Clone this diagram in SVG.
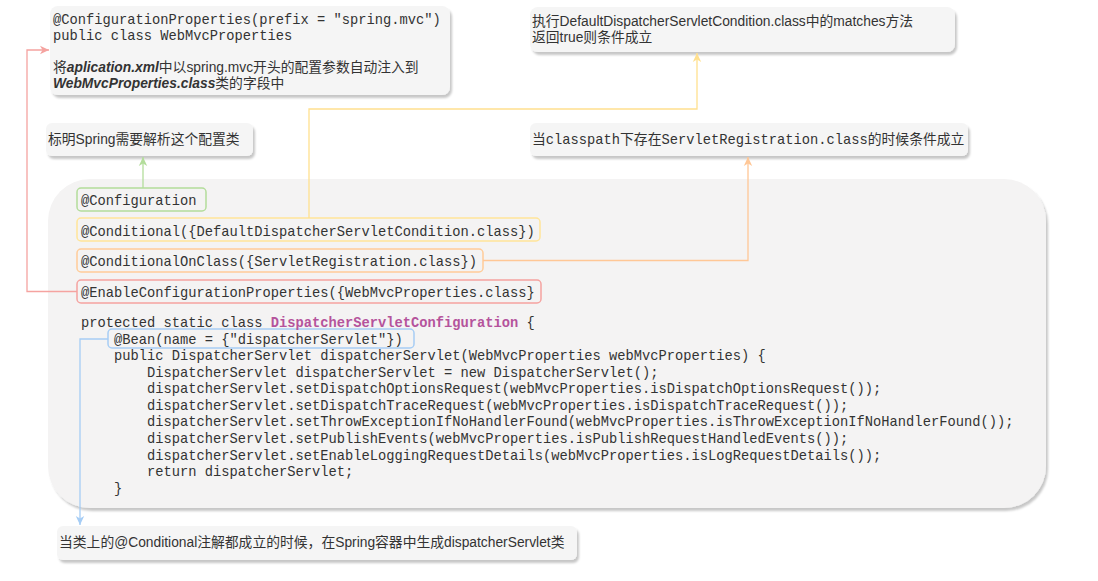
<svg xmlns="http://www.w3.org/2000/svg" width="1098" height="581" viewBox="0 0 1098 581">
<style>
.box{fill:#f5f5f5;stroke:none;filter:url(#sh)}
.big{fill:#f4f3f3;stroke:none;filter:url(#sh)}
.ann{fill:none;stroke-width:1.5}
.mono{font-family:"Liberation Mono","Noto Sans CJK SC",monospace;fill:#333}
.code{font-family:"Liberation Mono",monospace;font-size:13.75px;fill:#333}
.sans{font-family:"Liberation Sans","Noto Sans CJK SC",sans-serif;font-size:13.8px;fill:#333}
.bi{font-weight:bold;font-style:italic}
.kw{fill:#b5539c;font-weight:bold}
.conn{fill:none;stroke-width:1.3}
</style>
<defs>
<filter id="sh" x="-5%" y="-10%" width="110%" height="130%">
<feDropShadow dx="2" dy="3" stdDeviation="1" flood-color="#000" flood-opacity="0.22"/>
</filter>
<marker id="aR" markerUnits="userSpaceOnUse" markerWidth="10" markerHeight="10" refX="9" refY="5" orient="auto"><path d="M0,0.8 L9,5 L0,9.2 L2.5,5 Z" fill="#f5a3a0"/></marker>
<marker id="aG" markerUnits="userSpaceOnUse" markerWidth="10" markerHeight="10" refX="9" refY="5" orient="auto"><path d="M0,0.8 L9,5 L0,9.2 L2.5,5 Z" fill="#b3dd9b"/></marker>
<marker id="aY" markerUnits="userSpaceOnUse" markerWidth="10" markerHeight="10" refX="9" refY="5" orient="auto"><path d="M0,0.8 L9,5 L0,9.2 L2.5,5 Z" fill="#ffe08f"/></marker>
<marker id="aO" markerUnits="userSpaceOnUse" markerWidth="10" markerHeight="10" refX="9" refY="5" orient="auto"><path d="M0,0.8 L9,5 L0,9.2 L2.5,5 Z" fill="#ffc796"/></marker>
<marker id="aB" markerUnits="userSpaceOnUse" markerWidth="10" markerHeight="10" refX="9" refY="5" orient="auto"><path d="M0,0.8 L9,5 L0,9.2 L2.5,5 Z" fill="#a6cdf5"/></marker>
</defs>
<rect width="1098" height="581" fill="#ffffff"/>

<g id="node-webmvcproperties">
<rect class="box" x="50" y="6" width="400" height="89" rx="8"/>
<text class="mono" x="53" y="24" font-size="13.75">@ConfigurationProperties(prefix = "spring.mvc")</text>
<text class="mono" x="53" y="40" font-size="13.75">public class WebMvcProperties</text>
<text class="sans" x="53" y="71.5">将<tspan class="bi">aplication.xml</tspan>中以spring.mvc开头的配置参数自动注入到</text>
<text class="sans" x="53" y="88"><tspan class="bi">WebMvcProperties.class</tspan>类的字段中</text>
</g>

<g id="node-matches">
<rect class="box" x="530" y="7" width="425" height="45" rx="8"/>
<text class="sans" x="532" y="25.5">执行DefaultDispatcherServletCondition.class中的matches方法</text>
<text class="sans" x="532" y="41.5">返回true则条件成立</text>
</g>

<g id="node-spring-parse">
<rect class="box" x="46" y="123" width="207" height="33" rx="6"/>
<text class="sans" x="48" y="143.5">标明Spring需要解析这个配置类</text>
</g>

<g id="node-classpath">
<rect class="box" x="530" y="123" width="438" height="33" rx="6"/>
<text class="mono" x="532" y="144" font-size="13.75"><tspan font-family="Noto Sans CJK SC" font-size="13.8">当</tspan>classpath<tspan font-family="Noto Sans CJK SC" font-size="13.8">下存在</tspan>ServletRegistration.class<tspan font-family="Noto Sans CJK SC" font-size="13.8">的时候条件成立</tspan></text>
</g>

<g id="node-config-class">
<rect class="big" x="48" y="179" width="998" height="329" rx="42"/>
<rect class="ann" x="77" y="188" width="129" height="23" rx="4" stroke="#b3dd9b"/>
<rect class="ann" x="77" y="218" width="463" height="23" rx="4" stroke="#ffe599"/>
<rect class="ann" x="77" y="249" width="406" height="23" rx="4" stroke="#ffcc99"/>
<rect class="ann" x="77" y="280" width="464" height="23" rx="4" stroke="#f5a3a0"/>
<rect class="ann" x="108" y="329" width="306" height="19" rx="4" stroke="#a6cdf5"/>
<text class="code" x="81" y="205">@Configuration</text>
<text class="code" x="81" y="235.5">@Conditional({DefaultDispatcherServletCondition.class})</text>
<text class="code" x="81" y="266">@ConditionalOnClass({ServletRegistration.class})</text>
<text class="code" x="81" y="296.5">@EnableConfigurationProperties({WebMvcProperties.class}</text>
<text class="code" x="81" y="327">protected static class <tspan class="kw">DispatcherServletConfiguration</tspan> {</text>
<text class="code" x="114" y="343.5">@Bean(name = {"dispatcherServlet"})</text>
<text class="code" x="114" y="360">public DispatcherServlet dispatcherServlet(WebMvcProperties webMvcProperties) {</text>
<text class="code" x="147" y="376.6">DispatcherServlet dispatcherServlet = new DispatcherServlet();</text>
<text class="code" x="147" y="393.2">dispatcherServlet.setDispatchOptionsRequest(webMvcProperties.isDispatchOptionsRequest());</text>
<text class="code" x="147" y="409.8">dispatcherServlet.setDispatchTraceRequest(webMvcProperties.isDispatchTraceRequest());</text>
<text class="code" x="147" y="426.4">dispatcherServlet.setThrowExceptionIfNoHandlerFound(webMvcProperties.isThrowExceptionIfNoHandlerFound());</text>
<text class="code" x="147" y="443">dispatcherServlet.setPublishEvents(webMvcProperties.isPublishRequestHandledEvents());</text>
<text class="code" x="147" y="459.6">dispatcherServlet.setEnableLoggingRequestDetails(webMvcProperties.isLogRequestDetails());</text>
<text class="code" x="147" y="476.2">return dispatcherServlet;</text>
<text class="code" x="114" y="492.8">}</text>
</g>

<g id="node-result">
<rect class="box" x="57" y="526" width="520" height="34" rx="6"/>
<text class="sans" x="59" y="547">当类上的@Conditional注解都成立的时候，在Spring容器中生成dispatcherServlet类</text>
</g>

<g id="connectors">
<path class="conn" d="M77,291.5 H27 V50 H49" stroke="#f5a3a0" marker-end="url(#aR)"/>
<path class="conn" d="M143,188 V157" stroke="#b3dd9b" marker-end="url(#aG)"/>
<path class="conn" d="M309,218 V109 H697 V53" stroke="#ffe08f" marker-end="url(#aY)"/>
<path class="conn" d="M483,260.5 H748 V157" stroke="#ffc796" marker-end="url(#aO)"/>
<path class="conn" d="M108,339 H80 V525" stroke="#a6cdf5" marker-end="url(#aB)"/>
</g>
</svg>
